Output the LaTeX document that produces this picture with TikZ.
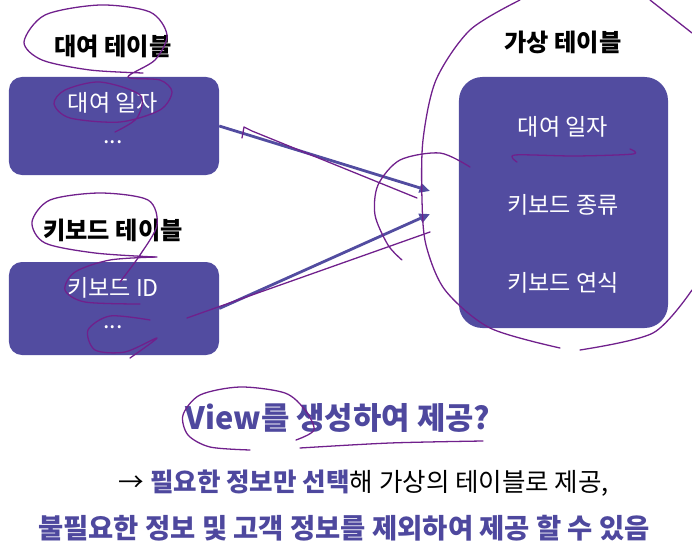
\documentclass[tikz,border=0pt]{standalone}
\usepackage{fontspec}
\setmainfont{Noto Sans CJK KR}
\usepackage{tikz}
\usetikzlibrary{arrows.meta, positioning}
\definecolor{tblpurple}{RGB}{82,76,160}
\definecolor{penpurple}{RGB}{112,32,140}
\definecolor{txtpurple}{RGB}{78,72,158}
\tikzset{
  tablebox/.style={rectangle, fill=tblpurple, rounded corners=11pt, inner sep=0pt},
  bigbox/.style={rectangle, fill=tblpurple, rounded corners=20pt, inner sep=0pt},
  tabletitle/.style={font=\fontsize{20.7}{24}\selectfont\bfseries, text=black},
  field/.style={font=\fontsize{19.7}{23}\selectfont, text=white},
  arrow/.style={-{Triangle[length=9pt,width=8pt]}, line width=2.4pt, color=tblpurple},
  pen/.style={line width=1.1pt, color=penpurple, line cap=round, line join=round},
  caption/.style={font=\fontsize{21.8}{26}\selectfont}
}
\begin{document}
\begin{tikzpicture}[x=0.03cm, y=-0.03cm]
  \useasboundingbox (0,0) rectangle (692,560);

  % rental table
  \node[tabletitle] (rentTitle) at (113,46) {대여 테이블};
  \node[tablebox, minimum width=6.3cm, minimum height=2.94cm] (rent) at (114,126) {};
  \node[field] (rentDate) at (113,103) {대여 일자};
  \node[field] (rentMore) at (113,142) {...};

  % keyboard table
  \node[tabletitle] (kbTitle) at (113,230) {키보드 테이블};
  \node[tablebox, minimum width=6.3cm, minimum height=2.79cm] (kb) at (114,308.5) {};
  \node[field] (kbId) at (113,288) {키보드 ID};
  \node[field] (kbMore) at (113,327) {...};

  % virtual table
  \node[tabletitle] (viewTitle) at (563,42) {가상 테이블};
  \node[bigbox, minimum width=6.27cm, minimum height=7.53cm] (view) at (563.5,202.5) {};
  \node[field] (vDate) at (563,127) {대여 일자};
  \node[field] (vKind) at (563,205) {키보드 종류};
  \node[field] (vYear) at (563,283) {키보드 연식};

  % arrows into the view
  \coordinate (tipA) at (430,191);
  \coordinate (tipB) at (430,214);
  \draw[arrow] (rent.east) -- (tipA);
  \draw[arrow] (kb.east) -- (tipB);

  % captions
  \node[caption, font=\fontsize{26.3}{31}\selectfont\bfseries, text=txtpurple] (q) at (338,418) {View를 생성하여 제공?};
  \node[caption] (line1) at (364,483) {→ {\bfseries\color{txtpurple}필요한 정보만 선택}해 가상의 테이블로 제공,};
  \node[caption, font=\fontsize{23.4}{28}\selectfont\bfseries, text=txtpurple] (line2) at (344,528) {불필요한 정보 및 고객 정보를 제외하여 제공 할 수 있음};

  % pen marks
  \draw[pen] plot[smooth] coordinates {(143,73) (90,70) (42,60) (24,42) (45,15) (100,5) (150,12) (167,35) (155,60) (128,77) (160,80) (172,92) (160,110) (120,122) (70,118) (54,104) (65,90) (100,82) (140,95) (137,118) (115,132)};
  \draw[pen] plot[smooth] coordinates {(155,257) (95,253) (45,243) (32,222) (50,200) (100,193) (148,200) (157,225) (140,255) (120,282)};
  \draw[pen] plot[smooth] coordinates {(157,257) (110,260) (75,272) (65,290) (85,302) (140,304)};
  \draw[pen] plot[smooth] coordinates {(150,320) (110,316) (88,330) (95,350) (125,352) (157,338) (130,358)};
  \draw[pen] (187,318) -- (430,232);
  \draw[pen] (242,138) -- (244,127) -- (252,131) -- (417,198);
  \draw[pen] plot[smooth] coordinates {(470,167) (440,153) (400,160) (378,185) (375,215) (388,245) (402,260)};
  \draw[pen] plot[smooth] coordinates {(520,0) (470,30) (436,80) (423,140) (422,200) (426,245) (445,290) (490,328) (560,348)};
  \draw[pen] plot[smooth] coordinates {(580,350) (653,333) (692,290)};
  \draw[pen] plot[smooth] coordinates {(650,0) (692,33)};
  \draw[pen] plot[smooth] coordinates {(517,162) (515,155) (575,156) (633,154) (630,149)};
  \draw[pen] plot[smooth] coordinates {(250,450) (210,447) (188,435) (183,415) (200,395) (240,387) (285,393) (305,410) (314,430) (296,440)};
  \draw[pen] plot[smooth] coordinates {(300,448) (390,443) (483,441)};
\end{tikzpicture}
\end{document}
